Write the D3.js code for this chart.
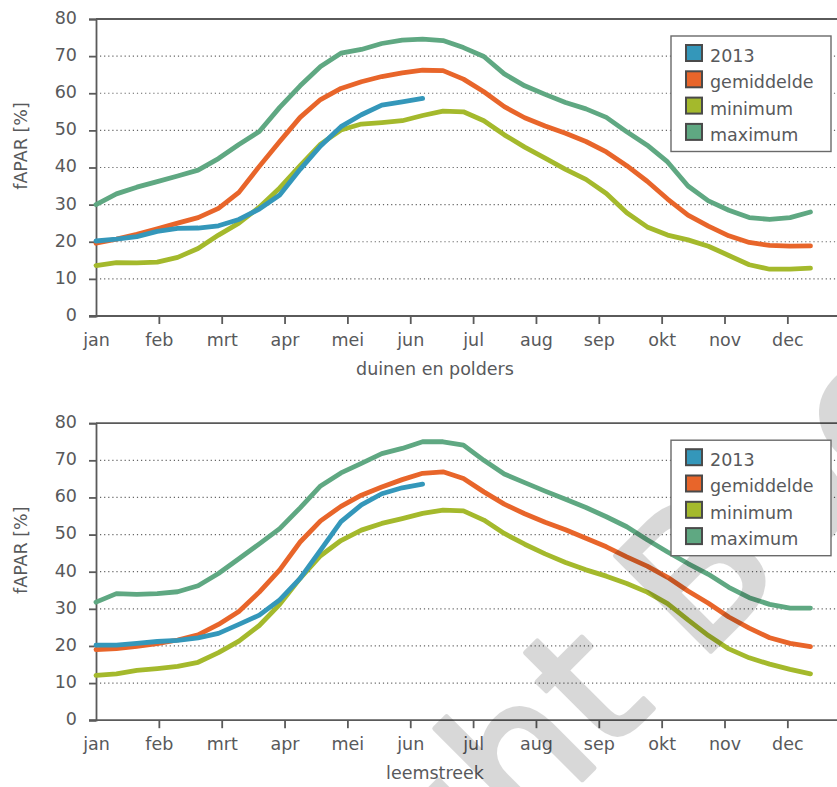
<!DOCTYPE html>
<html>
<head>
<meta charset="utf-8">
<script src="https://cdn.jsdelivr.net/npm/d3@7"></script>
<style>
  body { margin: 0; background: #fff; }
  svg { display: block; }
  text { font-family: "DejaVu Sans", sans-serif; fill: #58595b; }
</style>
</head>
<body>
<div id="chart"></div>
<script>
// ---------- data ----------
const months = ["jan","feb","mrt","apr","mei","jun","jul","aug","sep","okt","nov","dec"];
const yTicks = [0,10,20,30,40,50,60,70,80];
const seriesNames = ["2013","gemiddelde","minimum","maximum"];
const seriesColors = ["#3497ba","#e8652a","#a4b92c","#5fa882"];
const panelTitles = ["duinen en polders","leemstreek"];
const watermarkText = "Copyright Boerenbond";

// duinen en polders (one value per dekad, starting 1 jan)
const duinen2013 = [20.2,20.7,21.4,22.8,23.6,23.7,24.3,26.0,28.8,32.6,39.5,45.8,51.0,54.2,56.8,57.7,58.6];
const duinenGem  = [19.6,20.7,22.0,23.5,25.0,26.5,29.0,33.3,40.3,47.0,53.5,58.3,61.3,63.1,64.5,65.5,66.2,66.1,63.8,60.4,56.4,53.4,51.2,49.2,47.0,44.2,40.5,36.3,31.5,27.2,24.2,21.6,19.8,19.0,18.8,18.9];
const duinenMin  = [13.6,14.4,14.3,14.5,15.8,18.2,21.8,25.0,29.3,34.5,40.5,46.3,50.1,51.7,52.1,52.6,54.0,55.2,55.0,52.6,48.8,45.5,42.5,39.5,36.8,33.0,27.8,24.0,21.8,20.5,18.8,16.3,13.8,12.6,12.6,12.9];
const duinenMax  = [30.0,32.9,34.7,36.2,37.7,39.3,42.4,46.2,49.7,56.2,62.0,67.2,70.8,71.8,73.4,74.3,74.6,74.2,72.3,69.9,65.2,62.0,59.7,57.5,55.8,53.5,49.6,46.0,41.5,35.0,31.0,28.5,26.5,26.0,26.5,28.0];

// leemstreek
const leem2013 = [20.2,20.2,20.7,21.2,21.5,22.2,23.4,25.8,28.3,32.4,38.2,45.8,53.5,58.0,61.0,62.6,63.6];
const leemGem  = [19.0,19.3,19.9,20.6,21.6,23.0,25.8,29.3,34.5,40.5,48.0,53.7,57.6,60.6,62.8,64.8,66.5,66.9,65.1,61.5,58.2,55.6,53.3,51.3,49.0,46.7,44.0,41.5,38.5,34.8,31.5,27.8,24.8,22.2,20.7,19.8];
const leemMin  = [12.1,12.5,13.4,13.9,14.5,15.6,18.2,21.3,25.5,31.2,38.2,44.3,48.4,51.2,53.0,54.3,55.7,56.6,56.4,53.9,50.3,47.4,44.8,42.5,40.5,38.8,36.8,34.5,31.4,27.0,22.8,19.2,16.8,15.1,13.7,12.5];
const leemMax  = [31.8,34.1,33.9,34.1,34.6,36.2,39.5,43.5,47.5,51.6,57.2,63.1,66.6,69.2,71.8,73.2,75.0,75.0,74.1,70.0,66.3,64.0,61.7,59.5,57.3,54.8,52.1,48.6,45.3,42.2,39.3,35.8,33.0,31.2,30.2,30.2];

const panels = [
  { title: panelTitles[0], series: [duinen2013, duinenGem, duinenMin, duinenMax] },
  { title: panelTitles[1], series: [leem2013, leemGem, leemMin, leemMax] }
];

// ---------- layout ----------
const W = 837, H = 787;
const dekad = 0.3248;            // month units between data points
const plotLeft = 96;
const monthW = 62.85;
const panelTops = [19, 423.2];
const plotH = 297;
const FS = "17.5px";

const svg = d3.select("#chart").append("svg").attr("width", W).attr("height", H);
const chartLayer = svg.append("g");
const wmLayer = svg.append("g").attr("opacity", 0.15);
const legendLayer = svg.append("g");

const x = d3.scaleLinear().domain([0, 12]).range([plotLeft, plotLeft + 12 * monthW]);

panels.forEach((p, pi) => {
  const top = panelTops[pi];
  const y = d3.scaleLinear().domain([0, 80]).range([top + plotH, top]);
  const g = chartLayer.append("g");

  // dotted gridlines
  g.selectAll(".grid").data(yTicks.filter(v => v > 0 && v < 80)).enter().append("line")
    .attr("x1", plotLeft + 4).attr("x2", W)
    .attr("y1", d => y(d)).attr("y2", d => y(d))
    .attr("stroke", "#666").attr("stroke-width", 1.2)
    .attr("stroke-dasharray", "1.2,2.9");

  // top border
  g.append("line").attr("x1", plotLeft).attr("x2", W)
    .attr("y1", y(80)).attr("y2", y(80))
    .attr("stroke", "#5a5a5a").attr("stroke-width", 1.8);

  // y axis
  const yAxis = d3.axisLeft(y).tickValues(yTicks).tickSize(7).tickPadding(12);
  const ya = g.append("g").attr("transform", `translate(${plotLeft},0)`).call(yAxis);
  ya.select(".domain").attr("stroke", "#5a5a5a").attr("stroke-width", 1.8);
  ya.selectAll(".tick line").attr("stroke", "#5a5a5a").attr("stroke-width", 1.8);
  ya.selectAll(".tick text").style("font-size", FS).attr("fill", "#58595b")
    .style("font-family", "DejaVu Sans").attr("dy", "0.25em");

  // x axis
  const xAxis = d3.axisBottom(x).tickValues(d3.range(12)).tickFormat(i => months[i])
    .tickSize(8).tickSizeOuter(0).tickPadding(9);
  const xa = g.append("g").attr("transform", `translate(0,${y(0)})`).call(xAxis);
  xa.select(".domain").attr("stroke", "#5a5a5a").attr("stroke-width", 1.8)
    .attr("d", `M${plotLeft - 7},0H${W}`);
  xa.selectAll(".tick line").attr("stroke", "#5a5a5a").attr("stroke-width", 1.8);
  xa.selectAll(".tick text").style("font-size", FS).attr("fill", "#58595b")
    .style("font-family", "DejaVu Sans").attr("dy", "0.72em");
  xa.selectAll(".tick").filter(d => d === 0).select("line").remove();

  // y title
  g.append("text").attr("transform", `translate(21,${top + 127}) rotate(-90)`)
    .attr("text-anchor", "middle").attr("dominant-baseline", "central")
    .style("font-size", FS).text("fAPAR [%]");

  // x title
  g.append("text").attr("x", 435).attr("y", y(0) + 58.5)
    .attr("text-anchor", "middle").style("font-size", FS).text(p.title);

  // lines
  const line = d3.line().x((d, i) => x(i * dekad)).y(d => y(d));
  const order = [3, 1, 2, 0];
  order.forEach(si => {
    g.append("path").datum(p.series[si])
      .attr("d", line)
      .attr("fill", "none").attr("stroke", seriesColors[si])
      .attr("stroke-width", 4.8).attr("stroke-linejoin", "round").attr("stroke-linecap", "round");
  });

  // legend
  const lx = 671, ly = top + 17;
  const lg = legendLayer.append("g").attr("transform", `translate(${lx},${ly})`);
  lg.append("rect").attr("x", 0).attr("y", 0).attr("width", 160).attr("height", 115.5)
    .attr("fill", "#fff").attr("stroke", "#6a6a6a").attr("stroke-width", 1.4);
  seriesNames.forEach((n, i) => {
    lg.append("rect").attr("x", 15).attr("y", 9 + i * 26.3).attr("width", 16).attr("height", 16)
      .attr("fill", seriesColors[i]).attr("stroke", "#4a4a4a").attr("stroke-width", 2);
    lg.append("text").attr("x", 39).attr("y", 26 + i * 26.3)
      .style("font-size", "17.5px").text(n);
  });
});

// watermark (semi-transparent, above the lines, below the legends)
const wm = wmLayer.append("text")
  .style("font-family", "DejaVu Sans").style("font-size", "185px")
  .style("fill", "#000").attr("stroke", "#000").attr("stroke-width", 5)
  .attr("stroke-linejoin", "round")
  .text(watermarkText);
const bIdx = watermarkText.indexOf("B");
const bPos = wm.node().getStartPositionOfChar(bIdx);
// start of "B" on its baseline, text rotated -45deg
wm.attr("transform", `translate(698,664) rotate(-45) translate(${-bPos.x},0)`);
</script>
</body>
</html>
